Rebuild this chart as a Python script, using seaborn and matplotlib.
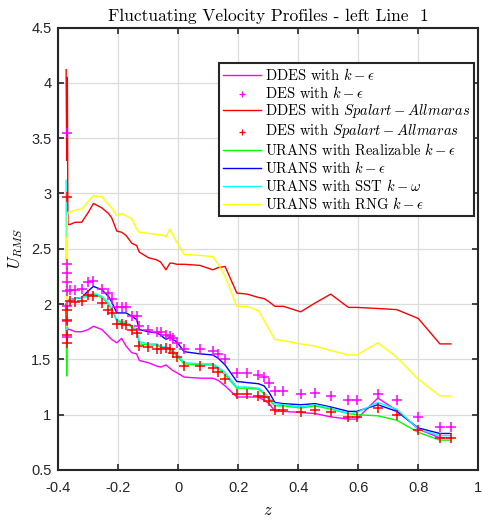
import numpy as np
import pandas as pd
import matplotlib
matplotlib.use("Agg")
import matplotlib.pyplot as plt
import seaborn as sns

# sample positions along the line
z_lead = [-0.374, -0.372, -0.370, -0.368]
z = [-0.361, -0.344, -0.322, -0.300, -0.283, -0.255, -0.233, -0.222, -0.205, -0.189,
     -0.174, -0.155, -0.139, -0.130, -0.100, -0.072, -0.059, -0.041, -0.028, -0.019,
     -0.005, 0.019, 0.072, 0.115, 0.133, 0.156, 0.195, 0.230, 0.267, 0.286,
     0.303, 0.322, 0.350, 0.408, 0.456, 0.508, 0.567, 0.595, 0.665, 0.728,
     0.800, 0.872, 0.909]

# DDES k-eps (line)
ddes_ke_lead = [2.00, 1.65, 1.80, 1.77]
ddes_ke = [1.77, 1.75, 1.75, 1.77, 1.80, 1.77, 1.71, 1.68, 1.65, 1.69,
           1.62, 1.56, 1.55, 1.49, 1.47, 1.44, 1.43, 1.45, 1.42, 1.40,
           1.38, 1.34, 1.33, 1.33, 1.31, 1.26, 1.16, 1.16, 1.16, 1.13,
           1.10, 1.03, 1.03, 1.02, 1.01, 0.98, 0.96, 0.96, 1.15, 1.04,
           0.87, 0.79, 0.79]
# DES k-eps (markers)
des_ke_spike = [3.55, 2.36, 2.28, 2.20, 2.12, 1.98, 1.85, 1.70]
des_ke = [2.13, 2.13, 2.14, 2.20, 2.21, 2.14, 2.10, 2.05, 1.97, 1.97,
          1.97, 1.89, 1.89, 1.80, 1.77, 1.75, 1.75, 1.72, 1.71, 1.69,
          1.65, 1.59, 1.59, 1.58, 1.55, 1.50, 1.38, 1.38, 1.36, 1.34,
          1.29, 1.21, 1.21, 1.19, 1.20, 1.17, 1.13, 1.13, 1.19, 1.13,
          0.98, 0.89, 0.89]
# DDES Spalart-Allmaras (line)
ddes_sa_lead = [4.12, 3.30, 4.05, 2.72]
ddes_sa = [2.72, 2.74, 2.74, 2.83, 2.91, 2.87, 2.82, 2.78, 2.66, 2.65,
           2.62, 2.55, 2.53, 2.47, 2.42, 2.40, 2.38, 2.31, 2.37, 2.37,
           2.36, 2.36, 2.35, 2.31, 2.33, 2.34, 2.10, 2.09, 2.06, 2.05,
           2.02, 1.98, 1.98, 1.93, 2.01, 2.09, 1.97, 1.97, 1.96, 1.95,
           1.87, 1.64, 1.64]
# DES Spalart-Allmaras (markers)
des_sa_spike = [2.97, 1.95, 1.86, 1.72, 1.65]
des_sa = [2.03, 2.02, 2.03, 2.08, 2.07, 2.01, 1.95, 1.92, 1.82, 1.82,
          1.81, 1.77, 1.74, 1.62, 1.61, 1.59, 1.59, 1.60, 1.59, 1.56,
          1.52, 1.44, 1.44, 1.42, 1.39, 1.32, 1.19, 1.19, 1.17, 1.16,
          1.12, 1.04, 1.04, 1.02, 1.04, 1.02, 0.98, 0.98, 1.06, 1.00,
          0.86, 0.79, 0.79]
# URANS models (lines)
urans_rke_lead = [2.00, 1.35, 2.00, 2.04]
urans_rke = [2.04, 2.05, 2.06, 2.07, 2.09, 2.06, 2.00, 1.95, 1.85, 1.83,
             1.83, 1.79, 1.76, 1.64, 1.63, 1.63, 1.61, 1.60, 1.59, 1.57,
             1.53, 1.46, 1.45, 1.45, 1.42, 1.36, 1.24, 1.24, 1.23, 1.19,
             1.13, 1.08, 1.08, 1.06, 1.08, 1.05, 1.01, 1.00, 0.99, 0.95,
             0.84, 0.77, 0.77]
urans_ke_lead = [2.00, 1.69, 2.00, 2.04]
urans_ke = [2.04, 2.05, 2.06, 2.12, 2.16, 2.13, 2.07, 2.02, 1.92, 1.92,
            1.92, 1.89, 1.86, 1.77, 1.75, 1.74, 1.72, 1.68, 1.70, 1.68,
            1.66, 1.57, 1.55, 1.54, 1.51, 1.45, 1.30, 1.29, 1.28, 1.26,
            1.20, 1.11, 1.10, 1.09, 1.10, 1.07, 1.03, 1.03, 1.09, 1.03,
            0.88, 0.83, 0.83]
urans_sst_lead = [3.12, 1.70, 2.00, 2.04]
urans_sst = [2.04, 2.05, 2.06, 2.08, 2.10, 2.07, 2.01, 1.96, 1.86, 1.84,
             1.84, 1.80, 1.77, 1.66, 1.64, 1.64, 1.62, 1.61, 1.60, 1.58,
             1.55, 1.47, 1.46, 1.46, 1.43, 1.38, 1.25, 1.25, 1.24, 1.20,
             1.15, 1.10, 1.09, 1.07, 1.09, 1.06, 1.01, 1.02, 1.11, 1.05,
             0.87, 0.81, 0.81]
urans_rng_lead = [2.60, 1.80, 2.80, 2.83]
urans_rng = [2.83, 2.85, 2.86, 2.93, 2.98, 2.97, 2.90, 2.87, 2.80, 2.82,
             2.80, 2.77, 2.68, 2.65, 2.64, 2.63, 2.63, 2.61, 2.68, 2.63,
             2.56, 2.45, 2.44, 2.43, 2.36, 2.25, 1.98, 1.98, 1.94, 1.85,
             1.77, 1.68, 1.67, 1.64, 1.62, 1.58, 1.54, 1.54, 1.65, 1.52,
             1.32, 1.17, 1.17]

plt.rcParams['mathtext.fontset'] = 'cm'
plt.rcParams['axes.formatter.use_mathtext'] = True

fig = plt.figure(figsize=(4.84, 5.2), dpi=100)
ax = fig.add_axes([0.1205, 0.0962, 0.8677, 0.8507])

z_all = z_lead + z


def add_line(lead, vals, color, label):
    df = pd.DataFrame({"z": z_all, "u": lead + vals})
    sns.lineplot(data=df, x="z", y="u", ax=ax, color=color, lw=1.0,
                 sort=False, estimator=None, label=label)


def add_marks(spike, vals, color, label):
    df = pd.DataFrame({"z": [-0.372] * len(spike) + z, "u": spike + vals})
    sns.scatterplot(data=df, x="z", y="u", ax=ax, color=color, marker="+",
                    s=42, linewidth=1.1, label=label, zorder=3)


add_line(ddes_ke_lead, ddes_ke, "#ff00ff", r"DDES with $k-\epsilon$")
add_marks(des_ke_spike, des_ke, "#ff00ff", r"DES with $k-\epsilon$")
add_line(ddes_sa_lead, ddes_sa, "#ff0000", r"DDES with $Spalart-Allmaras$")
add_marks(des_sa_spike, des_sa, "#ff0000", r"DES with $Spalart-Allmaras$")
add_line(urans_rke_lead, urans_rke, "#00ff00", r"URANS with Realizable $k-\epsilon$")
add_line(urans_ke_lead, urans_ke, "#0000ff", r"URANS with $k-\epsilon$")
add_line(urans_sst_lead, urans_sst, "#00ffff", r"URANS with SST $k-\omega$")
add_line(urans_rng_lead, urans_rng, "#ffff00", r"URANS with RNG $k-\epsilon$")

ax.set_xlim(-0.4, 1.0)
ax.set_ylim(0.5, 4.5)
ax.set_xticks(np.arange(-0.4, 1.01, 0.2))
ax.set_yticks(np.arange(0.5, 4.51, 0.5))
ax.set_xticklabels(["-0.4", "-0.2", "0", "0.2", "0.4", "0.6", "0.8", "1"])
ax.set_yticklabels(["0.5", "1", "1.5", "2", "2.5", "3", "3.5", "4", "4.5"])
ax.grid(True, color="#dcdcdc", lw=0.9)
ax.set_axisbelow(True)
ax.tick_params(direction="in", length=4, width=1.2, top=True, right=True,
               labelsize=10.5, colors="#262626")
ax.tick_params(axis="x", pad=8)
ax.tick_params(axis="y", pad=5)
for lab in ax.get_xticklabels() + ax.get_yticklabels():
    lab.set_fontfamily("Liberation Sans")
for sp in ax.spines.values():
    sp.set_linewidth(1.5)
    sp.set_color("#262626")

ax.set_xlabel(r"$z$", fontsize=12, labelpad=4)
ax.set_ylabel(r"$U_{RMS}$", fontsize=12, labelpad=4)
ax.set_title("Fluctuating Velocity Profiles - left Line  1", fontfamily="cmr10",
             fontsize=12.5, pad=5)

leg = ax.legend(loc="upper right", bbox_to_anchor=(0.99, 0.92),
                prop={"family": "cmr10", "size": 10.5}, frameon=True, fancybox=False,
                borderpad=0.25, labelspacing=0.13, handlelength=2.6, handletextpad=0.3,
                borderaxespad=0.0)
leg.get_frame().set_edgecolor("#262626")
leg.get_frame().set_linewidth(1.5)
leg.get_frame().set_alpha(1.0)
# smaller '+' glyphs in the legend, as in the original
for h in leg.legend_handles:
    if hasattr(h, "set_sizes"):
        h.set_sizes([18])
        h.set_linewidth(0.9)

fig.savefig("out.png", dpi=100)
